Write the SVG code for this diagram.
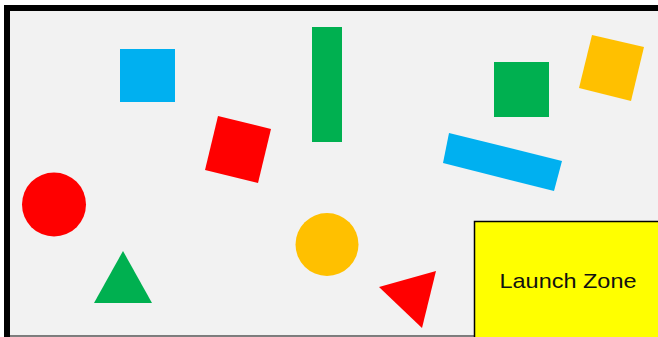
<svg xmlns="http://www.w3.org/2000/svg" width="658" height="337" viewBox="0 0 658 337">
<style>
.blue{fill:#00B0F0}.green{fill:#00B050}.orange{fill:#FFC000}.red{fill:#FF0000}
.lbl{font-family:"Liberation Sans","Open Sans",Arial,sans-serif;font-size:21px;fill:#111}
</style>
<rect x="0" y="0" width="658" height="337" fill="#FFFFFF"/>
<rect x="10" y="11" width="648" height="325" fill="#F2F2F2"/>
<rect x="4" y="5" width="654" height="6" fill="#000"/>
<rect x="4" y="5" width="6" height="332" fill="#000"/>
<line x1="10" y1="336" x2="658" y2="336" stroke="#555" stroke-width="1.5"/>
<g id="blue-square"><rect class="blue" x="120" y="49" width="55" height="53"/></g>
<g id="green-bar"><rect class="green" x="312" y="27" width="30" height="115"/></g>
<g id="green-square"><rect class="green" x="494" y="62" width="55" height="55"/></g>
<g id="orange-square"><polygon class="orange" points="592,35 644,47 631,101 579,88"/></g>
<g id="red-square"><polygon class="red" points="218,116 271,129 258,183 205,170"/></g>
<g id="blue-bar"><polygon class="blue" points="449,133 562,161 554,191 443,163"/></g>
<g id="red-circle"><circle class="red" cx="54" cy="204.5" r="32"/></g>
<g id="green-triangle"><polygon class="green" points="123,251 152,303 94,303"/></g>
<g id="orange-circle"><circle class="orange" cx="327" cy="244.5" r="31.5"/></g>
<g id="red-triangle"><polygon class="red" points="379,287 436,271 422,328"/></g>
<g id="launch-zone">
<rect x="474.5" y="221.5" width="190" height="120" fill="#FFFF00" stroke="#000" stroke-width="1.5"/>
<text class="lbl" x="568" y="288" text-anchor="middle" textLength="137" lengthAdjust="spacingAndGlyphs">Launch Zone</text>
</g>
</svg>
